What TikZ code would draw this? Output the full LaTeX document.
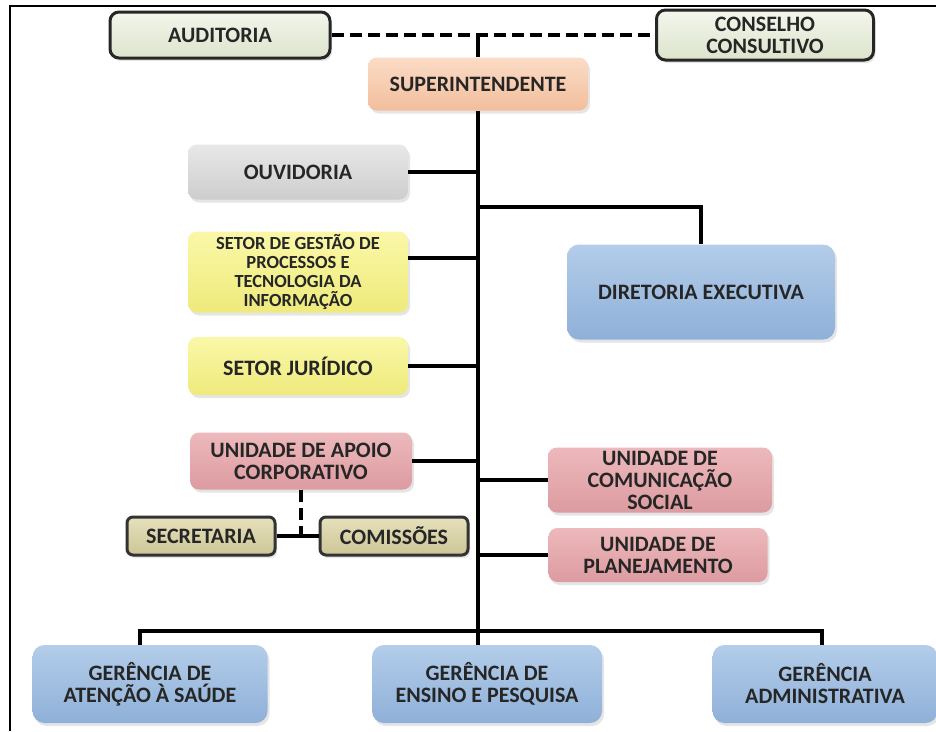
\documentclass[tikz,border=0pt]{standalone}
\usepackage{fontspec}
\setmainfont{Carlito}
\usepackage{tikz}
\usetikzlibrary{shapes.geometric, arrows, positioning, shadows}
\definecolor{textogris}{HTML}{262626}
\definecolor{verdeA}{HTML}{F3F6EC}
\definecolor{verdeB}{HTML}{DCE4CC}
\definecolor{pessegoA}{HTML}{FBDCC6}
\definecolor{pessegoB}{HTML}{F2BE9C}
\definecolor{cinzaA}{HTML}{E8E8E8}
\definecolor{cinzaB}{HTML}{CDCDCD}
\definecolor{amareloA}{HTML}{FAF8A8}
\definecolor{amareloB}{HTML}{EEEA7C}
\definecolor{rosaA}{HTML}{EDB9BC}
\definecolor{rosaB}{HTML}{DC9BA0}
\definecolor{caquiA}{HTML}{E6E1BD}
\definecolor{caquiB}{HTML}{CCC596}
\definecolor{azulA}{HTML}{B3CDEA}
\definecolor{azulB}{HTML}{8FB0D8}
\tikzstyle{caixa} = [rectangle, rounded corners=9pt, inner sep=0pt, align=center, text=textogris, font=\bfseries\fontsize{22}{22}\selectfont, drop shadow={opacity=0.2, shadow xshift=2pt, shadow yshift=-3pt}]
\tikzstyle{verde} = [caixa, draw=black!85, line width=3pt, top color=verdeA, bottom color=verdeB]
\tikzstyle{pessego} = [caixa, top color=pessegoA, bottom color=pessegoB]
\tikzstyle{cinza} = [caixa, top color=cinzaA, bottom color=cinzaB]
\tikzstyle{amarelo} = [caixa, top color=amareloA, bottom color=amareloB]
\tikzstyle{rosa} = [caixa, top color=rosaA, bottom color=rosaB]
\tikzstyle{caqui} = [caixa, rounded corners=6pt, draw=black!80, line width=3pt, top color=caquiA, bottom color=caquiB]
\tikzstyle{azul} = [caixa, rounded corners=12pt, top color=azulA, bottom color=azulB]
\tikzstyle{linha} = [line width=3.6pt]
\tikzstyle{tracejada} = [linha, dash pattern=on 12pt off 6pt]

\begin{document}
\begin{tikzpicture}[x=1pt, y=-1pt]
        \useasboundingbox (0,0) rectangle (936,731);
        \fill[white] (0,0) rectangle (936,731);
        \draw[line width=2pt] (10,731) -- (10,6) -- (936,6);

        \node (auditoria) [verde, minimum width=220pt, minimum height=46pt] at (220,35) {AUDITORIA};
        \node (conselho) [verde, minimum width=217pt, minimum height=50pt] at (765,35) {CONSELHO\\CONSULTIVO};
        \node (super) [pessego, minimum width=220pt, minimum height=53pt] at (478,84) {SUPERINTENDENTE};
        \node (ouvidoria) [cinza, minimum width=220pt, minimum height=55pt] at (298,172) {OUVIDORIA};
        \node (gestao) [amarelo, minimum width=220pt, minimum height=81pt, font=\bfseries\fontsize{18.5}{19}\selectfont] at (298,272) {SETOR DE GESTÃO DE\\PROCESSOS E\\TECNOLOGIA DA\\INFORMAÇÃO};
        \node (juridico) [amarelo, minimum width=220pt, minimum height=58pt] at (298,366) {SETOR JURÍDICO};
        \node (diretoria) [azul, minimum width=268pt, minimum height=95pt] at (701,292) {DIRETORIA EXECUTIVA};
        \node (apoio) [rosa, minimum width=222pt, minimum height=57pt] at (301,461) {UNIDADE DE APOIO\\CORPORATIVO};
        \node (secretaria) [caqui, minimum width=148pt, minimum height=38pt] at (201,536) {SECRETARIA};
        \node (comissoes) [caqui, minimum width=148pt, minimum height=38pt, right=42pt of secretaria] {COMISSÕES};
        \node (comunicacao) [rosa, minimum width=224pt, minimum height=65pt] at (660,480) {UNIDADE DE\\COMUNICAÇÃO\\SOCIAL};
        \node (planejamento) [rosa, minimum width=219pt, minimum height=54pt] at (658,555) {UNIDADE DE\\PLANEJAMENTO};
        \node (saude) [azul, minimum width=235pt, minimum height=78pt] at (150,684) {GERÊNCIA DE\\ATENÇÃO À SAÚDE};
        \node (ensino) [azul, minimum width=230pt, minimum height=78pt] at (487,684) {GERÊNCIA DE\\ENSINO E PESQUISA};
        \node (adm) [azul, minimum width=225pt, minimum height=78pt] at (825,684) {GERÊNCIA\\ADMINISTRATIVA};

        \coordinate (dirjunta) at (478,207);
        \coordinate (barra) at (478,631);

        \draw [tracejada] (auditoria.east) -- (conselho.west);
        \draw [linha] (super.north) -- (super.north |- auditoria.east);
        \draw [linha] (super.south) -- (super.south |- ensino.north);
        \draw [linha] (ouvidoria.east) -- (ouvidoria.east -| super.south);
        \draw [linha] ([yshift=14pt]gestao.east) -- ([yshift=14pt]gestao.east -| super.south);
        \draw [linha] (juridico.east) -- (juridico.east -| super.south);
        \draw [linha] (dirjunta) -| (diretoria.north);
        \draw [linha] (apoio.east) -- (apoio.east -| super.south);
        \draw [tracejada] (apoio.south) -- (apoio.south |- secretaria.east);
        \draw [linha] (secretaria.east) -- (comissoes.west);
        \draw [linha] (comunicacao.west -| super.south) -- (comunicacao.west);
        \draw [linha] (planejamento.west -| super.south) -- (planejamento.west);
        \draw [linha] ([xshift=-10pt]saude.north) |- (barra) -| ([xshift=-3pt]adm.north);
\end{tikzpicture}
\end{document}
